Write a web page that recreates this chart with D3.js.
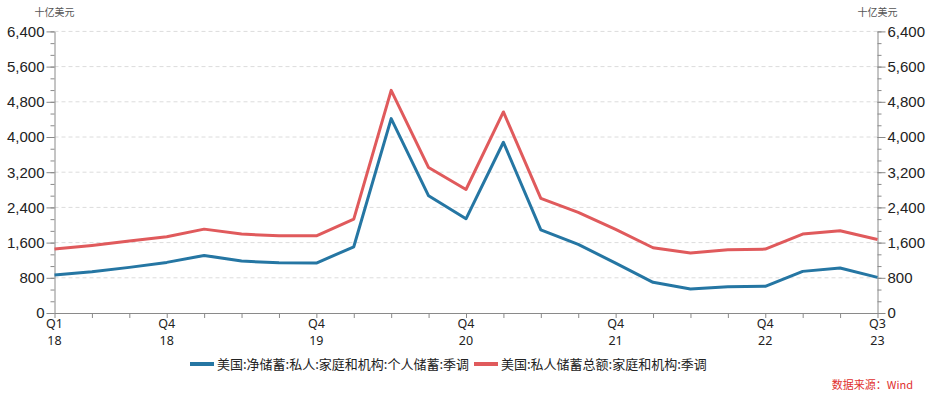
<!DOCTYPE html>
<html><head><meta charset="utf-8">
<script src="https://cdn.jsdelivr.net/npm/d3@7"></script>
<style>
body{margin:0;background:#fff;}
svg{display:block;font-family:"Noto Sans","Noto Sans CJK SC",sans-serif;}
</style></head>
<body><svg id="c" width="932" height="399"></svg>
<script>
const quarters = ["Q1","Q2","Q3","Q4","Q1","Q2","Q3","Q4","Q1","Q2","Q3","Q4","Q1","Q2","Q3","Q4","Q1","Q2","Q3","Q4","Q1","Q2","Q3"];
const years = ["18","18","18","18","19","19","19","19","20","20","20","20","21","21","21","21","22","22","22","22","23","23","23"];
const labelIdx = [0,3,7,11,15,19,22];
const labelTop = ["Q1","Q4","Q4","Q4","Q4","Q4","Q3"];
const labelBottom = ["18","18","19","20","21","22","23"];
const netSaving = [862,937,1037,1150,1309,1180,1142,1135,1505,4418,2663,2141,3881,1891,1558,1135,697,545,597,606,946,1021,810];
const grossSaving = [1452,1536,1634,1732,1906,1793,1755,1755,2133,5061,3306,2807,4569,2603,2285,1899,1483,1362,1437,1452,1793,1868,1672];
const yTicks = [0,800,1600,2400,3200,4000,4800,5600,6400];
const seriesNames = ["美国:净储蓄:私人:家庭和机构:个人储蓄:季调","美国:私人储蓄总额:家庭和机构:季调"];
const colors = ["#2576a3","#e05a5c"];
const unit = "十亿美元";
const source = "数据来源：Wind";

const svg = d3.select("#c");
const L = 54.5, R = 877.5, T = 31.4, B = 313;
const x = d3.scaleLinear().domain([0, quarters.length-1]).range([L, R]);
const y = d3.scaleLinear().domain([0, 6400]).range([B, T]);
const axisColor = "#8a8a8a";

// gridlines
svg.append("g").selectAll("line").data(yTicks.filter(d=>d>0)).join("line")
  .attr("x1", L).attr("x2", R).attr("y1", d=>y(d)).attr("y2", d=>y(d))
  .attr("stroke", "#dcdcdc").attr("stroke-dasharray", "4,3").attr("stroke-width", 1);

const minorTicks = d3.range(0, 6400 + 1, 800/3);

function styleAxis(g){
  g.select(".domain").attr("stroke", axisColor);
  g.selectAll(".tick line").attr("stroke", axisColor);
  g.selectAll("text").attr("fill", "#222").attr("font-size", 15);
}

// left axis minor
svg.append("g").attr("transform", `translate(${L},0)`)
  .call(d3.axisLeft(y).tickValues(minorTicks).tickSize(4).tickFormat(""))
  .call(g=>{g.select(".domain").remove(); g.selectAll("line").attr("stroke", axisColor);});
svg.append("g").attr("transform", `translate(${L},0)`)
  .call(d3.axisLeft(y).tickValues(yTicks).tickSize(8).tickSizeOuter(0).tickPadding(2).tickFormat(d3.format(",")))
  .call(styleAxis);
// right axis
svg.append("g").attr("transform", `translate(${R},0)`)
  .call(d3.axisRight(y).tickValues(minorTicks).tickSize(4).tickFormat(""))
  .call(g=>{g.select(".domain").remove(); g.selectAll("line").attr("stroke", axisColor);});
svg.append("g").attr("transform", `translate(${R},0)`)
  .call(d3.axisRight(y).tickValues(yTicks).tickSize(8).tickSizeOuter(0).tickPadding(2).tickFormat(d3.format(",")))
  .call(styleAxis);

// x axis
const xg = svg.append("g").attr("transform", `translate(0,${B})`)
  .call(d3.axisBottom(x).tickValues(d3.range(quarters.length)).tickSize(5).tickSizeOuter(0).tickFormat(""));
xg.select(".domain").attr("stroke", axisColor);
xg.selectAll(".tick line").attr("stroke", axisColor);
svg.append("g").selectAll("text").data(labelIdx).join("text")
  .attr("x", d=>x(d)).attr("y", B+15).attr("text-anchor","middle")
  .attr("font-size", 12.5).attr("fill", "#222").text((d,i)=>labelTop[i]);
svg.append("g").selectAll("text").data(labelIdx).join("text")
  .attr("x", d=>x(d)).attr("y", B+32).attr("text-anchor","middle")
  .attr("font-size", 12.5).attr("fill", "#222").text((d,i)=>labelBottom[i]);

// units
svg.append("text").attr("x", L).attr("y", 16).attr("text-anchor","middle")
  .attr("font-size", 10).attr("fill", "#555").text(unit);
svg.append("text").attr("x", R).attr("y", 16).attr("text-anchor","middle")
  .attr("font-size", 10).attr("fill", "#555").text(unit);

// lines
const line = d3.line().x((d,i)=>x(i)).y(d=>y(d));
[netSaving, grossSaving].forEach((s,k)=>{
  svg.append("path").datum(s).attr("d", line).attr("fill","none")
    .attr("stroke", colors[k]).attr("stroke-width", 3).attr("stroke-linejoin","round");
});

// legend
const legX = [190, 474];
const lg = svg.append("g");
seriesNames.forEach((n,k)=>{
  lg.append("rect").attr("x", legX[k]).attr("y", 362).attr("width", 24).attr("height", 4).attr("fill", colors[k]);
  lg.append("text").attr("x", legX[k]+27).attr("y", 369).attr("font-size", 13).attr("fill","#222")
    .attr("font-family", "'Noto Sans CJK SC',sans-serif").text(n);
});

svg.append("text").attr("x", 913).attr("y", 389).attr("text-anchor","end")
  .attr("font-size", 11).attr("fill", "#e0302e").attr("font-family","'Noto Sans CJK SC',sans-serif").text(source);
</script></body></html>
